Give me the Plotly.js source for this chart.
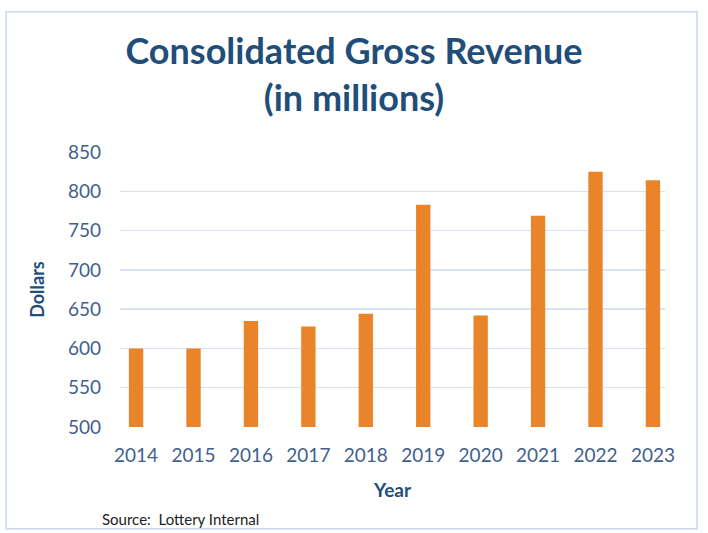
<!DOCTYPE html>
<html>
<head>
<meta charset="utf-8">
<script src="https://cdn.plot.ly/plotly-3.0.1.min.js"></script>
<style>
html,body{margin:0;padding:0;background:#fff;}
#chart{width:708px;height:533px;}
</style>
</head>
<body>
<div id="chart"></div>
<script>
const years = ["2014","2015","2016","2017","2018","2019","2020","2021","2022","2023"];
const revenue = [600, 600, 635, 628, 644, 783, 642, 769, 825, 814];
const yTicks = [500, 550, 600, 650, 700, 750, 800, 850];

const titleColor = "#1F4E79";
const tickColor = "#3F5F8C";
const fontFam = "Lato, 'Open Sans', sans-serif";

const trace = {
  type: "bar",
  x: years,
  y: revenue,
  marker: {color: "#EA842A", line: {width: 0}},
  hoverinfo: "x+y"
};

const layout = {
  width: 708, height: 533,
  margin: {l: 120, r: 43, t: 152, b: 106},
  paper_bgcolor: "#ffffff",
  plot_bgcolor: "#ffffff",
  bargap: 0.75,
  showlegend: false,
  title: {
    text: "<b>Consolidated Gross Revenue<br>(in millions)</b>",
    font: {family: fontFam, size: 36, color: titleColor},
    x: 0.5, xanchor: "center", xref: "container",
    y: 0.88, yanchor: "top", yref: "container"
  },
  xaxis: {
    type: "category",
    range: [-0.28, 9.21],
    showgrid: false, zeroline: false, showline: false,
    ticks: "", ticklabelstandoff: 15,
    tickfont: {family: fontFam, size: 19, color: tickColor},
    title: {text: "<b>Year</b>", font: {family: fontFam, size: 19, color: titleColor}, standoff: 18}
  },
  yaxis: {
    range: [500, 850],
    tickvals: yTicks,
    ticktext: yTicks.map(String),
    showgrid: true, gridcolor: "#D9E2F1", gridwidth: 1.5,
    zeroline: false, showline: false,
    ticks: "", ticklabelstandoff: 18,
    tickfont: {family: fontFam, size: 19, color: tickColor},
    title: {text: "<b>Dollars</b>", font: {family: fontFam, size: 18, color: titleColor}, standoff: 18}
  },
  shapes: [{
    type: "rect", xref: "paper", yref: "paper",
    x0: -0.209, x1: 1.0587, y0: -0.37, y1: 1.51,
    line: {color: "#C9D8EE", width: 1.5}, fillcolor: "rgba(0,0,0,0)", layer: "below"
  }],
  annotations: [{
    text: "Source:  Lottery Internal",
    xref: "paper", yref: "paper",
    x: (100 - 120) / 545, y: (427 - 519) / 275,
    xanchor: "left", yanchor: "middle", showarrow: false,
    font: {family: fontFam, size: 15, color: "#222222"}
  }]
};

Plotly.newPlot("chart", [trace], layout, {displayModeBar: false, staticPlot: true});
</script>
</body>
</html>
